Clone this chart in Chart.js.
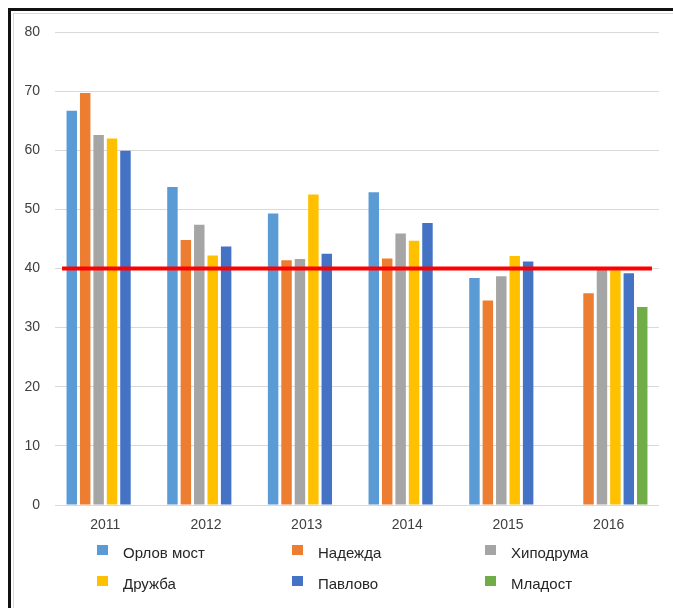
<!DOCTYPE html>
<html>
<head>
<meta charset="utf-8">
<script src="https://cdn.jsdelivr.net/npm/chart.js@4"></script>
<style>
  html, body { margin: 0; padding: 0; background: #fff; }
  body { width: 673px; height: 608px; position: relative; overflow: hidden; font-family: "Liberation Sans", Arial, sans-serif; }
  .frame { position: absolute; left: 8px; top: 8px; width: 700px; height: 640px; border-left: 3px solid #111; border-top: 3px solid #111; }
  .inner { position: absolute; left: 13px; top: 13px; width: 700px; height: 640px; border-left: 1px solid #d9d9d9; border-top: 1px solid #d9d9d9; }
  #chart { position: absolute; left: 0; top: 0; }
  #legend { position: absolute; left: 97px; top: 543px; display: grid; grid-template-columns: 195px 193px 160px; grid-auto-rows: 31px; }
  .item { display: flex; align-items: center; font-size: 15px; color: #262626; height: 18px; }
  .swatch { width: 11px; height: 10px; margin-right: 15px; flex: none; position: relative; top: -2px; }
</style>
</head>
<body>
<div class="frame"></div>
<div class="inner"></div>
<canvas id="chart" width="673" height="608"></canvas>
<div id="legend"></div>
<script>
const years = ["2011", "2012", "2013", "2014", "2015", "2016"];
const seriesNames = ["Орлов мост", "Надежда", "Хиподрума", "Дружба", "Павлово", "Младост"];
const orlovMost = [66.7, 53.8, 49.3, 52.9, 38.4, null];
const nadezhda = [69.7, 44.8, 41.4, 41.7, 34.6, 35.8];
const hipodruma = [62.6, 47.4, 41.6, 45.9, 38.7, 39.9];
const druzhba = [62.0, 42.2, 52.5, 44.7, 42.1, 39.7];
const pavlovo = [59.9, 43.7, 42.5, 47.7, 41.2, 39.2];
const mladost = [null, null, null, null, null, 33.5];
const limitValue = 40;
const yTicks = [0, 10, 20, 30, 40, 50, 60, 70, 80];

const colors = ["#5B9BD5", "#ED7D31", "#A5A5A5", "#FFC000", "#4472C4", "#70AD47"];
const values = [orlovMost, nadezhda, hipodruma, druzhba, pavlovo, mladost];

// Red limit line across the groups
const limitLine = {
  id: "limitLine",
  afterDatasetsDraw(chart) {
    const { ctx, scales } = chart;
    const x = scales.x;
    const half = (x.getPixelForValue(1) - x.getPixelForValue(0)) / 2;
    const y = scales.y.getPixelForValue(limitValue);
    ctx.save();
    ctx.strokeStyle = "#FF0000";
    ctx.lineWidth = 4;
    ctx.beginPath();
    ctx.moveTo(x.getPixelForValue(0) - half * 0.86, y);
    ctx.lineTo(x.getPixelForValue(years.length - 1) + half * 0.86, y);
    ctx.stroke();
    ctx.restore();
  },
};

const ctx = document.getElementById("chart").getContext("2d");
new Chart(ctx, {
  type: "bar",
  data: {
    labels: years,
    datasets: seriesNames.map((name, i) => ({
      label: name,
      data: values[i],
      backgroundColor: colors[i],
      borderWidth: 0,
      categoryPercentage: 0.8,
      barPercentage: 0.78,
    })),
  },
  options: {
    responsive: false,
    animation: false,
    layout: { padding: { left: 0, right: 14, top: 32, bottom: 73 } },
    plugins: {
      legend: { display: false },
      tooltip: { enabled: false },
    },
    scales: {
      x: {
        grid: { display: false, drawTicks: false },
        border: { display: false },
        ticks: {
          padding: 12,
          color: "#404040",
          font: { family: "Liberation Sans", size: 14 },
        },
        afterFit: (axis) => { axis.height = 30; },
      },
      y: {
        min: 0,
        max: 80,
        afterBuildTicks: (axis) => { axis.ticks = yTicks.map((v) => ({ value: v })); },
        grid: { color: "#d9d9d9", lineWidth: 1, drawTicks: false },
        border: { display: false },
        ticks: {
          padding: 15,
          color: "#404040",
          font: { family: "Liberation Sans", size: 14 },
        },
        afterFit: (axis) => { axis.width = 55; },
      },
    },
  },
  plugins: [limitLine],
});

// Legend in three columns
document.getElementById("legend").innerHTML = seriesNames
  .map(
    (name, i) => `
      <div class="item"><span class="swatch" style="background:${colors[i]}"></span>${name}</div>
    `
  )
  .join("");
</script>
</body>
</html>
